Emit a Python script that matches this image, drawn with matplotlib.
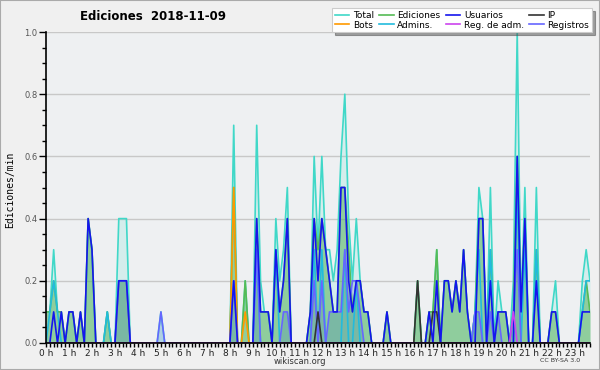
import numpy as np
import matplotlib
matplotlib.use("Agg")
import matplotlib.pyplot as plt
from matplotlib.lines import Line2D
from matplotlib.patches import Rectangle

# ---- data: 10-minute bins, edits per minute ----
total = [
    .1, .1, .3, .1, .1, 0,    .1, .1, 0, .1, 0, .4,    .3, 0, 0, 0, .1, 0,
    0, .4, .4, .4, 0, 0,      0, 0, 0, 0, 0, 0,        .1, 0, 0, 0, 0, 0,
    0, 0, 0, 0, 0, 0,         0, 0, 0, 0, 0, 0,        0, .7, 0, 0, .2, 0,
    0, .7, .2, .1, .1, 0,     .4, .2, .3, .5, 0, 0,    0, 0, 0, .1, .6, .3,
    .6, .3, .3, .2, .3, .6,   .8, .4, .2, .4, .2, .1,  .1, 0, 0, 0, 0, .1,
    0, 0, 0, 0, 0, 0,         0, .2, 0, 0, .1, .1,     .3, 0, .2, .2, .1, .2,
    .1, .3, .1, 0, .1, .5,    .4, 0, .5, 0, .2, .1,    .1, 0, .2, 1.0, .1, .5,
    0, 0, .5, 0, 0, 0,        .1, .2, 0, 0, 0, 0,      0, 0, .2, .3, .2,
]
ediciones = [
    .1, .1, .2, .1, .1, 0,    .1, .1, 0, .1, 0, .4,    .3, 0, 0, 0, .1, 0,
    0, .2, .2, .2, 0, 0,      0, 0, 0, 0, 0, 0,        0, 0, 0, 0, 0, 0,
    0, 0, 0, 0, 0, 0,         0, 0, 0, 0, 0, 0,        0, .5, 0, 0, .2, 0,
    0, .4, .1, .1, .1, 0,     .3, .1, .2, .4, 0, 0,    0, 0, 0, .1, .4, .3,
    .4, .3, .2, .1, .1, .5,   .5, .3, .1, .2, .2, .1,  .1, 0, 0, 0, 0, .1,
    0, 0, 0, 0, 0, 0,         0, .2, 0, 0, .1, .1,     .3, 0, .2, .2, .1, .2,
    .1, .3, .1, 0, .1, .4,    .4, 0, .3, 0, .1, .1,    .1, 0, .1, .6, .1, .4,
    0, 0, .3, 0, 0, 0,        .1, .1, 0, 0, 0, 0,      0, 0, .1, .2, .1,
]
usuarios = [
    0, 0, .1, 0, .1, 0,       .1, .1, 0, .1, 0, .4,    .3, 0, 0, 0, 0, 0,
    0, .2, .2, .2, 0, 0,      0, 0, 0, 0, 0, 0,        0, 0, 0, 0, 0, 0,
    0, 0, 0, 0, 0, 0,         0, 0, 0, 0, 0, 0,        0, .2, 0, 0, 0, 0,
    0, .4, .1, .1, .1, 0,     .3, .1, .2, .4, 0, 0,    0, 0, 0, .1, .4, .2,
    .4, .3, .2, .1, .1, .5,   .5, .2, .1, .2, .2, .1,  .1, 0, 0, 0, 0, .1,
    0, 0, 0, 0, 0, 0,         0, 0, 0, 0, .1, 0,       .2, 0, .2, .2, .1, .2,
    .1, .3, .1, 0, 0, .4,     .4, 0, .2, 0, .1, .1,    .1, 0, 0, .6, .1, .4,
    0, 0, .2, 0, 0, 0,        .1, .1, 0, 0, 0, 0,      0, 0, .1, .1, .1,
]
ip = [0] * 143
ip[71] = .1; ip[97] = .2; ip[101] = .1; ip[102] = .1
bots = [0] * 143
bots[49] = .5; bots[52] = .1
admins = [0] * 143
for i, v in {1: .1, 2: .2, 3: .1, 16: .1, 55: .3, 60: .3, 70: .3, 72: .3,
             78: .3, 81: .2, 112: .1, 113: .3, 116: .3, 123: .5, 125: .3,
             128: .3, 140: .1, 141: .2, 142: .2}.items():
    admins[i] = v
reg_adm = [0] * 143
reg_adm[122] = .1
registros = [0] * 143
for i, v in {19: .2, 20: .2, 21: .2, 30: .1, 49: .2, 55: .3, 62: .1, 63: .1,
             70: .2, 72: .2, 74: .1, 75: .1, 76: .1, 77: .1, 78: .3, 79: .1,
             80: .2, 81: .2, 82: .1, 112: .1, 113: .1, 116: .1, 118: .1,
             122: .1, 123: .3}.items():
    registros[i] = v

hour_labels = [f"{h} h" for h in range(24)]
x = np.arange(len(total))

# ---- figure ----
fig = plt.figure(figsize=(6, 3.7), dpi=100, facecolor="#f0f0f0")
ax = fig.add_axes([46 / 600, 1 - 343 / 370, 544 / 600, 311 / 370])
ax.set_facecolor("#eef0f2")

ax.fill_between(x, total, color="#40e0d0", alpha=0.15, lw=0)
ax.fill_between(x, ediciones, color="#4caf50", alpha=0.5, lw=0)
ax.fill_between(x, registros, color="#3070c0", alpha=0.22, lw=0)

c_total, c_ed, c_us, c_ip = "#40d8c8", "#55bb55", "#1515ee", "#333333"
c_bots, c_adm, c_reg_adm, c_reg = "#ff9900", "#22bbdd", "#cc44ee", "#6666ff"
lw = 1.2
ax.plot(x, total, color=c_total, lw=lw)
ax.plot(x, ediciones, color=c_ed, lw=lw)
ax.plot(x, bots, color=c_bots, lw=lw)
ax.plot(x, admins, color=c_adm, lw=lw)
ax.plot(x, registros, color=c_reg, lw=lw)
ax.plot(x, ip, color=c_ip, lw=lw)
ax.plot(x, usuarios, color=c_us, lw=lw)
ax.plot(x, reg_adm, color=c_reg_adm, lw=lw)

ax.set_xlim(0, len(total) - 1)
ax.set_ylim(0, 1.0)
for s in ("top", "right"):
    ax.spines[s].set_visible(False)
for s in ("left", "bottom"):
    ax.spines[s].set_color("black")
    ax.spines[s].set_linewidth(1.2)

ax.set_yticks(np.arange(0, 1.01, 0.2))
ax.set_yticklabels([f"{v:.1f}" for v in np.arange(0, 1.01, 0.2)])
ax.set_yticks(np.arange(0, 1.01, 0.05), minor=True)
ax.set_xticks(np.arange(0, 24) * 6)
ax.set_xticklabels(hour_labels)
ax.set_xticks(x, minor=True)
ax.tick_params(axis="y", which="major", length=5, width=1, labelsize=6,
               labelcolor="#555555", pad=1)
ax.tick_params(axis="y", which="minor", length=3, width=1)
ax.tick_params(axis="x", which="both", length=3, width=1, labelsize=6.5,
               labelcolor="#222222", pad=1)
ax.grid(axis="y", which="major", color="#c8c8c8", lw=1)
ax.set_axisbelow(True)

fig.text(10 / 600, 1 - 190 / 370, "Ediciones/min", rotation=90,
         ha="center", va="center", fontsize=7, family="DejaVu Sans Mono")
fig.text(153 / 600, 1 - 17 / 370, "Ediciones  2018-11-09", ha="center",
         va="center", fontsize=8.5, fontweight="bold")
fig.text(300 / 600, 1 - 361 / 370, "wikiscan.org", ha="center", va="center",
         fontsize=6, color="#333333")
fig.text(560 / 600, 1 - 361 / 370, "CC BY-SA 3.0", ha="center", va="center",
         fontsize=4.5, color="#333333")

handles = [Line2D([], [], color=c, lw=1.2) for c in
           (c_total, c_bots, c_ed, c_adm, c_us, c_reg_adm, c_ip, c_reg)]
labels = ["Total", "Bots", "Ediciones", "Admins.", "Usuarios",
          "Reg. de adm.", "IP", "Registros"]
leg = fig.legend(handles, labels, ncol=4, loc="upper right",
                 bbox_to_anchor=(592 / 600, 1 - 8 / 370), fontsize=6.5,
                 frameon=True, fancybox=False, shadow=True,
                 handlelength=1.6, handletextpad=0.4, columnspacing=0.6,
                 labelspacing=0.1, borderpad=0.3, borderaxespad=0)
leg.get_frame().set_edgecolor("#cccccc")
leg.get_frame().set_linewidth(0.8)

fig.patches.append(Rectangle((0, 0), 1, 1, transform=fig.transFigure,
                             fill=False, edgecolor="#aaaaaa", lw=1.5))

fig.savefig("out.png", dpi=100, facecolor=fig.get_facecolor())
